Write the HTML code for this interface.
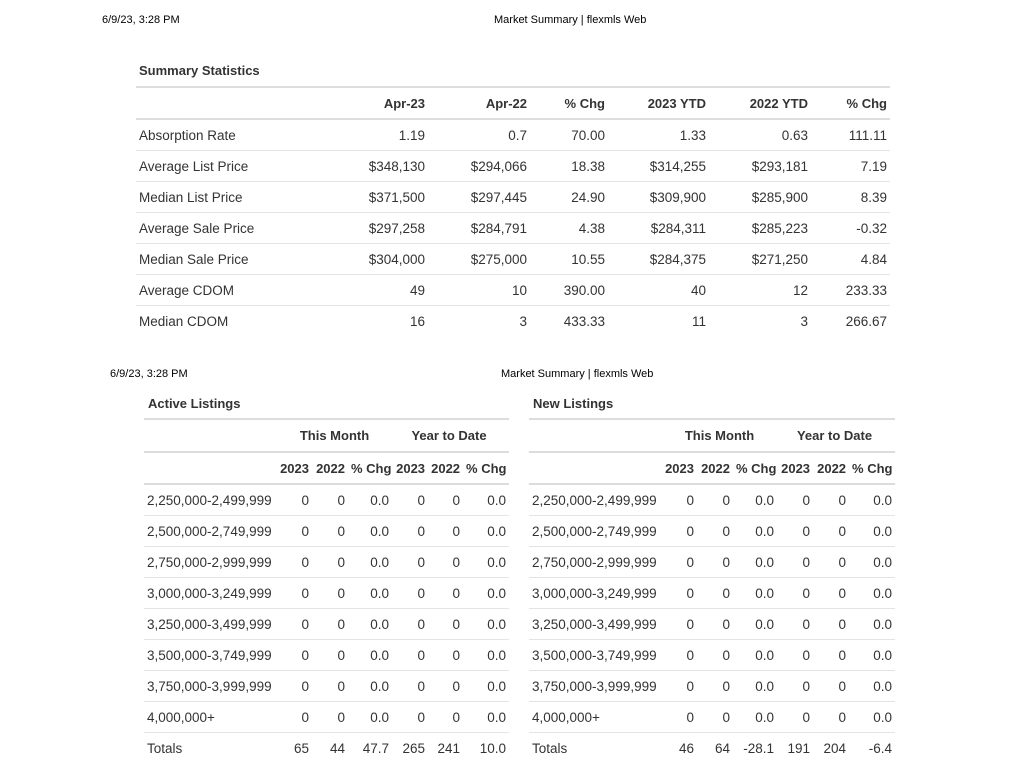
<!DOCTYPE html>
<html><head><meta charset="utf-8"><style>
body{margin:0;width:1024px;height:781px;background:#fff;position:relative;overflow:hidden;font-family:"Liberation Sans",sans-serif;color:#333}
.hd{position:absolute;font-size:11px;color:#000;font-family:"Liberation Sans",Arial,sans-serif}
.tt{position:absolute;font-size:13px;font-weight:bold;color:#333}
table{position:absolute;border-collapse:collapse;font-size:13.5px;table-layout:fixed}
td{padding:0 3px 0 3px;text-align:right;white-space:nowrap;border-bottom:1px solid #e4e4e4;vertical-align:middle}
td.l{text-align:left}
tr.h td{border-bottom:2px solid #ddd;font-weight:bold;font-size:13px}
table.top{border-top:2px solid #ddd}
tr.r td{height:30px}
tr.last td{border-bottom:none}
</style></head><body>
<div class="hd" style="left:102px;top:14px">6/9/23, 3:28 PM</div>
<div class="hd" style="left:494px;top:14px">Market Summary | flexmls Web</div>
<div class="tt" style="left:139px;top:63px">Summary Statistics</div>
<table class="top" style="left:136px;top:86px;width:754px">
<colgroup><col style="width:224px"><col style="width:68px"><col style="width:102px"><col style="width:78px"><col style="width:101px"><col style="width:102px"><col style="width:79px"></colgroup>
<tr class="h"><td style="height:30px"></td><td>Apr-23</td><td>Apr-22</td><td>% Chg</td><td>2023 YTD</td><td>2022 YTD</td><td>% Chg</td></tr>
<tr class="r"><td class="l">Absorption Rate</td><td>1.19</td><td>0.7</td><td>70.00</td><td>1.33</td><td>0.63</td><td>111.11</td></tr>
<tr class="r"><td class="l">Average List Price</td><td>$348,130</td><td>$294,066</td><td>18.38</td><td>$314,255</td><td>$293,181</td><td>7.19</td></tr>
<tr class="r"><td class="l">Median List Price</td><td>$371,500</td><td>$297,445</td><td>24.90</td><td>$309,900</td><td>$285,900</td><td>8.39</td></tr>
<tr class="r"><td class="l">Average Sale Price</td><td>$297,258</td><td>$284,791</td><td>4.38</td><td>$284,311</td><td>$285,223</td><td>-0.32</td></tr>
<tr class="r"><td class="l">Median Sale Price</td><td>$304,000</td><td>$275,000</td><td>10.55</td><td>$284,375</td><td>$271,250</td><td>4.84</td></tr>
<tr class="r"><td class="l">Average CDOM</td><td>49</td><td>10</td><td>390.00</td><td>40</td><td>12</td><td>233.33</td></tr>
<tr class="r last"><td class="l">Median CDOM</td><td>16</td><td>3</td><td>433.33</td><td>11</td><td>3</td><td>266.67</td></tr>
</table>

<div class="hd" style="left:110px;top:368px">6/9/23, 3:28 PM</div>
<div class="hd" style="left:501px;top:368px">Market Summary | flexmls Web</div>
<div class="tt" style="left:148px;top:396px">Active Listings</div>
<div class="tt" style="left:533px;top:396px">New Listings</div>

<table class="top" style="left:144px;top:418px;width:365px">
<colgroup><col style="width:128px"><col style="width:40px"><col style="width:36px"><col style="width:44px"><col style="width:36px"><col style="width:35px"><col style="width:46px"></colgroup>
<tr class="h"><td style="height:31px"></td><td colspan="3" style="text-align:center;padding-left:8px">This Month</td><td colspan="3" style="text-align:center;padding-left:0">Year to Date</td></tr>
<tr class="h"><td style="height:30px"></td><td>2023</td><td>2022</td><td>% Chg</td><td>2023</td><td>2022</td><td>% Chg</td></tr>
<tr class="r"><td class="l">2,250,000-2,499,999</td><td>0</td><td>0</td><td>0.0</td><td>0</td><td>0</td><td>0.0</td></tr>
<tr class="r"><td class="l">2,500,000-2,749,999</td><td>0</td><td>0</td><td>0.0</td><td>0</td><td>0</td><td>0.0</td></tr>
<tr class="r"><td class="l">2,750,000-2,999,999</td><td>0</td><td>0</td><td>0.0</td><td>0</td><td>0</td><td>0.0</td></tr>
<tr class="r"><td class="l">3,000,000-3,249,999</td><td>0</td><td>0</td><td>0.0</td><td>0</td><td>0</td><td>0.0</td></tr>
<tr class="r"><td class="l">3,250,000-3,499,999</td><td>0</td><td>0</td><td>0.0</td><td>0</td><td>0</td><td>0.0</td></tr>
<tr class="r"><td class="l">3,500,000-3,749,999</td><td>0</td><td>0</td><td>0.0</td><td>0</td><td>0</td><td>0.0</td></tr>
<tr class="r"><td class="l">3,750,000-3,999,999</td><td>0</td><td>0</td><td>0.0</td><td>0</td><td>0</td><td>0.0</td></tr>
<tr class="r"><td class="l">4,000,000+</td><td>0</td><td>0</td><td>0.0</td><td>0</td><td>0</td><td>0.0</td></tr>
<tr class="r last"><td class="l">Totals</td><td>65</td><td>44</td><td>47.7</td><td>265</td><td>241</td><td>10.0</td></tr>
</table>

<table class="top" style="left:529px;top:418px;width:366px">
<colgroup><col style="width:128px"><col style="width:40px"><col style="width:36px"><col style="width:44px"><col style="width:36px"><col style="width:36px"><col style="width:46px"></colgroup>
<tr class="h"><td style="height:31px"></td><td colspan="3" style="text-align:center;padding-left:8px">This Month</td><td colspan="3" style="text-align:center;padding-left:0">Year to Date</td></tr>
<tr class="h"><td style="height:30px"></td><td>2023</td><td>2022</td><td>% Chg</td><td>2023</td><td>2022</td><td>% Chg</td></tr>
<tr class="r"><td class="l">2,250,000-2,499,999</td><td>0</td><td>0</td><td>0.0</td><td>0</td><td>0</td><td>0.0</td></tr>
<tr class="r"><td class="l">2,500,000-2,749,999</td><td>0</td><td>0</td><td>0.0</td><td>0</td><td>0</td><td>0.0</td></tr>
<tr class="r"><td class="l">2,750,000-2,999,999</td><td>0</td><td>0</td><td>0.0</td><td>0</td><td>0</td><td>0.0</td></tr>
<tr class="r"><td class="l">3,000,000-3,249,999</td><td>0</td><td>0</td><td>0.0</td><td>0</td><td>0</td><td>0.0</td></tr>
<tr class="r"><td class="l">3,250,000-3,499,999</td><td>0</td><td>0</td><td>0.0</td><td>0</td><td>0</td><td>0.0</td></tr>
<tr class="r"><td class="l">3,500,000-3,749,999</td><td>0</td><td>0</td><td>0.0</td><td>0</td><td>0</td><td>0.0</td></tr>
<tr class="r"><td class="l">3,750,000-3,999,999</td><td>0</td><td>0</td><td>0.0</td><td>0</td><td>0</td><td>0.0</td></tr>
<tr class="r"><td class="l">4,000,000+</td><td>0</td><td>0</td><td>0.0</td><td>0</td><td>0</td><td>0.0</td></tr>
<tr class="r last"><td class="l">Totals</td><td>46</td><td>64</td><td>-28.1</td><td>191</td><td>204</td><td>-6.4</td></tr>
</table>
</body></html>
